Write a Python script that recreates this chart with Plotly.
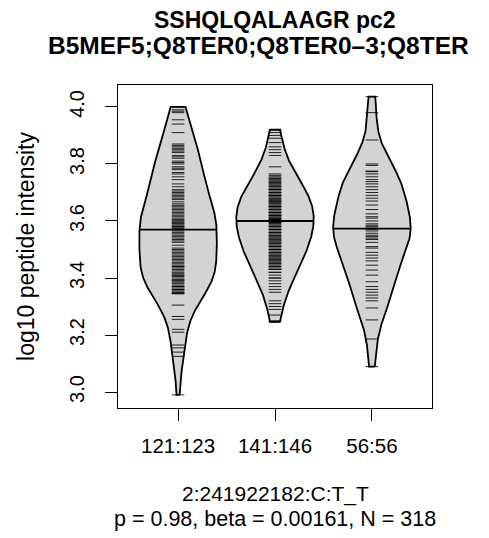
import numpy as np
import plotly.graph_objects as go

categories = ["121:123", "141:146", "56:56"]

g1 = [4.00, 3.99, 3.985, 3.98, 3.955, 3.94, 3.91,
      3.87, 3.865, 3.86, 3.855, 3.85, 3.845, 3.84, 3.83, 3.825, 3.82, 3.81, 3.805, 3.80,
      3.79, 3.785, 3.78, 3.77, 3.765, 3.755, 3.745,
      3.73, 3.72, 3.71, 3.705, 3.70, 3.695, 3.69, 3.685, 3.68, 3.675, 3.667, 3.66, 3.655,
      3.65, 3.645, 3.64, 3.635, 3.63, 3.625, 3.62, 3.615, 3.61, 3.605, 3.60, 3.60, 3.595,
      3.59, 3.59, 3.585, 3.58, 3.58, 3.575, 3.575,
      3.57, 3.565, 3.56, 3.555, 3.55, 3.545, 3.54, 3.535, 3.53, 3.525, 3.515, 3.505, 3.50,
      3.495, 3.49, 3.485, 3.48, 3.475, 3.47, 3.465, 3.46, 3.455, 3.45, 3.445, 3.44, 3.44,
      3.435, 3.43, 3.425, 3.42, 3.415, 3.41, 3.41, 3.405, 3.40, 3.395, 3.39, 3.39, 3.385,
      3.38, 3.375, 3.37, 3.37, 3.365, 3.36, 3.36, 3.355, 3.35, 3.35, 3.345, 3.345,
      3.305, 3.265, 3.255, 3.22, 3.21, 3.165, 3.155, 3.14, 3.125, 2.99]

g2 = [3.92, 3.91, 3.90, 3.89, 3.875, 3.86, 3.85, 3.84, 3.83, 3.79,
      3.765, 3.76, 3.755, 3.75, 3.75, 3.745,
      3.74, 3.74, 3.735, 3.73, 3.73, 3.725, 3.72, 3.72, 3.715, 3.71, 3.71, 3.71, 3.705,
      3.70, 3.70, 3.695, 3.69, 3.69, 3.69, 3.685, 3.68, 3.68, 3.675, 3.67, 3.67, 3.67,
      3.665, 3.66, 3.66, 3.655, 3.65, 3.65, 3.65, 3.645, 3.64, 3.64, 3.635, 3.63, 3.63,
      3.63, 3.625, 3.62, 3.62, 3.62, 3.615, 3.61, 3.61, 3.61, 3.605, 3.605, 3.60, 3.60,
      3.60, 3.60, 3.60, 3.598,
      3.595, 3.595, 3.59, 3.59, 3.585, 3.58, 3.58, 3.575, 3.57, 3.57, 3.565, 3.56, 3.56,
      3.555, 3.55, 3.55, 3.545, 3.54, 3.54, 3.535, 3.53, 3.53, 3.525, 3.52, 3.52, 3.515,
      3.51, 3.51, 3.505, 3.50, 3.50, 3.495, 3.49, 3.49, 3.485, 3.48, 3.48, 3.475, 3.47,
      3.47, 3.465, 3.46, 3.46, 3.455, 3.45, 3.45, 3.445, 3.44, 3.44, 3.435, 3.43, 3.43,
      3.42, 3.42, 3.41, 3.40, 3.40, 3.39, 3.38, 3.37, 3.36, 3.35,
      3.32, 3.31, 3.30, 3.29, 3.27, 3.25, 3.246]

g3 = [4.036, 3.98, 3.884, 3.80, 3.795, 3.775, 3.773, 3.765, 3.755, 3.745, 3.738, 3.73,
      3.72, 3.71, 3.70, 3.69, 3.68, 3.67, 3.656, 3.64, 3.625, 3.615, 3.61, 3.60, 3.59,
      3.585, 3.58, 3.575, 3.571, 3.565, 3.557, 3.55, 3.545, 3.54, 3.535, 3.525, 3.51,
      3.505, 3.49, 3.48, 3.47, 3.46, 3.445, 3.428, 3.41, 3.387, 3.37, 3.36, 3.35, 3.34,
      3.33, 3.32, 3.295, 3.253, 3.186, 3.089]

groups = [g1, g2, g3]
y_ticks = [3.0, 3.2, 3.4, 3.6, 3.8, 4.0]

title_line1 = "SSHQLQALAAGR pc2"
title_line2 = "B5MEF5;Q8TER0;Q8TER0\u20133;Q8TER"
y_title = "log10 peptide intensity"
snp_label = "2:241922182:C:T_T"
stats_label = "p = 0.98, beta = 0.00161, N = 318"

FONT = "Liberation Sans, Arial, Helvetica, sans-serif"
BW = 0.08
HALF_MAX = 0.4
LL = 0.13


def kde(vals, grid, bw):
    v = np.asarray(vals, dtype=float)[:, None]
    g = np.asarray(grid, dtype=float)[None, :]
    return np.exp(-0.5 * ((g - v) / bw) ** 2).sum(0) / (len(vals) * bw * np.sqrt(2 * np.pi))


fig = go.Figure()
for i, vals in enumerate(groups):
    c = i + 1
    arr = np.asarray(vals, dtype=float)
    grid = np.linspace(arr.min(), arr.max(), 300)
    d = kde(arr, grid, BW)
    scale = HALF_MAX / d.max()
    xs = np.concatenate([c + d * scale, (c - d * scale)[::-1], [c + d[0] * scale]])
    ys = np.concatenate([grid, grid[::-1], [grid[0]]])
    fig.add_trace(go.Scatter(x=xs, y=ys, mode="lines", fill="toself",
                             fillcolor="#D3D3D3", line=dict(color="black", width=1.8),
                             hoverinfo="skip", showlegend=False))
    lx, ly = [], []
    for v in arr:
        lx += [c - LL / 2, c + LL / 2, None]
        ly += [v, v, None]
    fig.add_trace(go.Scatter(x=lx, y=ly, mode="lines",
                             line=dict(color="rgba(0,0,0,0.85)", width=1),
                             hoverinfo="skip", showlegend=False))
    m = float(np.median(arr))
    w = float(kde(arr, [m], BW)[0] * scale)
    fig.add_trace(go.Scatter(x=[c - w, c + w], y=[m, m], mode="lines",
                             line=dict(color="black", width=1.8),
                             hoverinfo="skip", showlegend=False))

axis_common = dict(showline=True, linecolor="black", linewidth=1.2, mirror=True,
                   ticks="outside", ticklen=12, tickwidth=1.2, tickcolor="black",
                   showgrid=False, zeroline=False)

fig.update_layout(
    width=481, height=530,
    margin=dict(l=110, r=57, t=77, b=130),
    paper_bgcolor="white", plot_bgcolor="white",
    font=dict(family=FONT, color="black"),
    xaxis=dict(range=[0.38, 3.62], tickvals=[1, 2, 3], ticktext=categories,
               ticklabelstandoff=7,
               tickfont=dict(size=20.5, family=FONT, color="black"), **axis_common),
    yaxis=dict(range=[2.944, 4.077], tickvals=y_ticks,
               ticktext=[f"{t:.1f}" for t in y_ticks], tickangle=-90,
               ticklabelstandoff=13,
               tickfont=dict(size=20, family=FONT, color="black"),
               title=dict(text=y_title, font=dict(size=23, family=FONT, color="black"),
                          standoff=24),
               **axis_common),
    annotations=[
        dict(text=f"<b>{title_line1}</b>", xref="paper", yref="paper", x=0.5, y=1.2,
             xanchor="center", yanchor="middle", showarrow=False,
             font=dict(size=23, family=FONT, color="black")),
        dict(text=f"<b>{title_line2}</b>", xref="paper", yref="paper", x=0.446, y=1.122,
             xanchor="center", yanchor="middle", showarrow=False,
             font=dict(size=24.5, family=FONT, color="black")),
        dict(text=snp_label, xref="paper", yref="paper", x=0.5, y=-0.266,
             xanchor="center", yanchor="middle", showarrow=False,
             font=dict(size=21, family=FONT, color="black")),
        dict(text=stats_label, xref="paper", yref="paper", x=0.5, y=-0.345,
             xanchor="center", yanchor="middle", showarrow=False,
             font=dict(size=21.5, family=FONT, color="black")),
    ],
)

fig.write_html("out.html")
